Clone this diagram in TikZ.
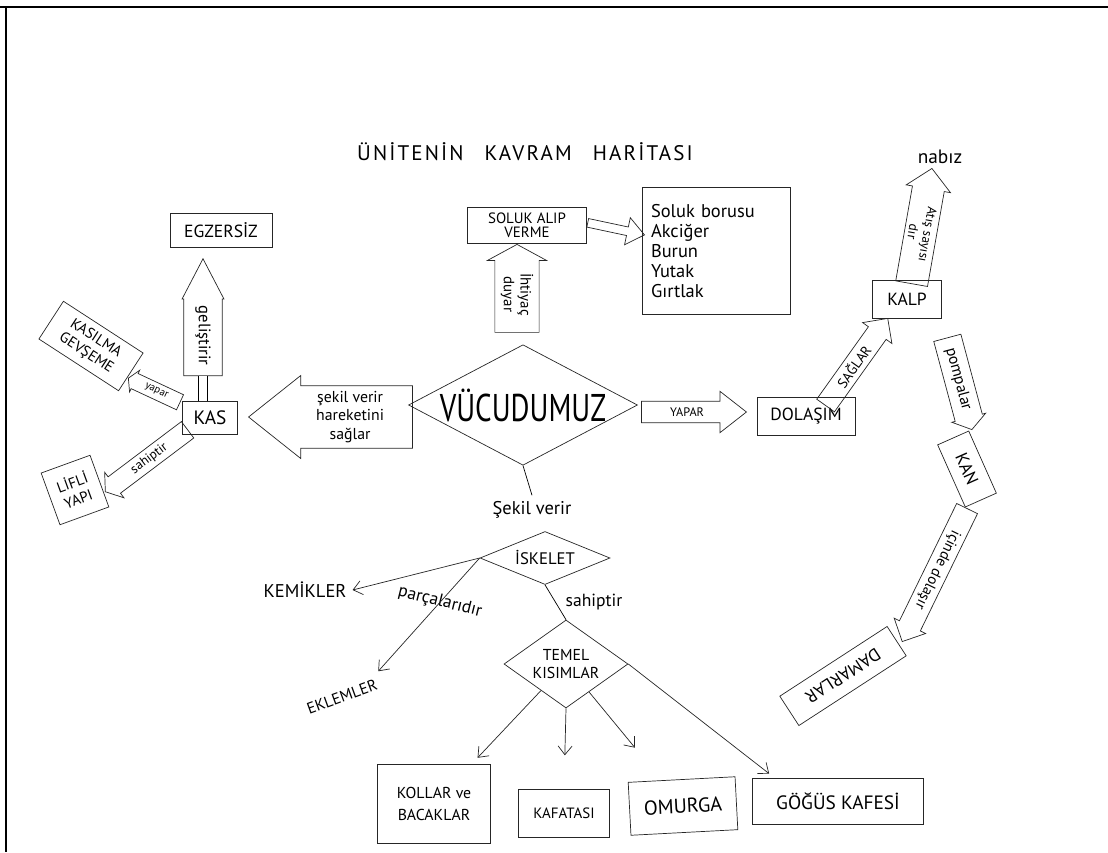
\documentclass[tikz,border=0pt]{standalone}
\usepackage{fontspec}
\usepackage{graphicx}
\setmainfont{PT Sans}
\usetikzlibrary{arrows.meta,shapes.geometric,shapes.arrows}

\begin{document}
\begin{tikzpicture}[
    x=0.02cm, y=-0.02cm,
    % plain styles
    kutu/.style={rectangle, draw=black!85, thin, align=center, inner sep=2pt, font=\fontsize{10}{11}\selectfont},
    karar/.style={diamond, draw=black!85, thin, inner sep=0pt, align=center},
    okkutu/.style={single arrow, draw=black!85, thin, align=center, inner sep=1.5pt, anchor=tip, font=\fontsize{8}{9}\selectfont},
    yazi/.style={font=\fontsize{10}{11}\selectfont},
    ok/.style={draw=black!85, thin, -{Straight Barb[length=5pt,width=8pt]}}
]
\useasboundingbox (0,0) rectangle (1108,852);

% page frame
\draw[line width=1.6pt] (0,7) -- (1108,7);
\draw[line width=1.6pt] (6,7) -- (6,852);

% Title
\node[yazi, font=\fontsize{12}{14}\selectfont] (baslik) at (525,152) {\addfontfeatures{LetterSpace=10}ÜNİTENİN\quad KAVRAM\quad HARİTASI};

% centre and skeleton
\node[karar, aspect=1.9, minimum width=43.6mm, minimum height=22.8mm] (vucut) at (523,405) {\scalebox{0.75}[1]{\fontsize{22}{24}\selectfont VÜCUDUMUZ}};
\node[yazi, font=\fontsize{10.5}{12}\selectfont] (sekilverir) at (532,510) {Şekil verir};
\node[karar, aspect=2.45, minimum width=26mm, minimum height=10.6mm, font=\fontsize{9.5}{11}\selectfont] (iskelet) at (545,558) {İSKELET};
\node[karar, aspect=1.41, minimum width=24.8mm, minimum height=17.6mm, font=\fontsize{9}{10}\selectfont] (temel) at (566,664) {TEMEL\\KISIMLAR};
\node[yazi, font=\fontsize{10.5}{12}\selectfont] (kemik) at (305,590) {KEMİKLER};
\node[yazi, rotate=20, font=\fontsize{9}{10}\selectfont] (eklem) at (342,697) {EKLEMLER};
\node[yazi, rotate=-14] (parca) at (440,602) {parçalarıdır};
\node[yazi] (sahip) at (594,602) {sahiptir};

\node[kutu, minimum width=22.6mm, minimum height=15.8mm, font=\fontsize{9}{13}\selectfont] (kollar) at (434,804) {KOLLAR ve\\BACAKLAR};
\node[kutu, minimum width=18.2mm, minimum height=9.6mm, font=\fontsize{8.5}{10}\selectfont] (kafatasi) at (564,813) {KAFATASI};
\node[kutu, rotate=3, minimum width=21.4mm, minimum height=10.6mm, font=\fontsize{11.5}{12}\selectfont] (omurga) at (683,806) {OMURGA};
\node[kutu, minimum width=34.2mm, minimum height=9.2mm, font=\fontsize{11}{12}\selectfont] (gogus) at (838,801) {GÖĞÜS KAFESİ};

\draw (vucut.south) -- (sekilverir.north);
\draw[ok] (iskelet.west) -- (kemik.east);
\draw[ok] (iskelet.west) -- (eklem.north east);
\draw (iskelet.south) -- (temel.north);
\draw[ok, shorten >=5pt] (temel) -- (kollar);
\draw[ok, shorten >=19pt] (temel.south) -- (kafatasi.north);
\draw[ok, shorten >=24pt] (temel) -- (omurga);
\draw[ok] (temel.east) -- ([xshift=3.4mm, yshift=0.8mm]gogus.north west);

% muscle side
\node[kutu, minimum width=20.4mm, minimum height=6.8mm] (egzersiz) at (221,230) {EGZERSİZ};
\node[kutu, minimum width=11mm, minimum height=6.6mm, font=\fontsize{11}{12}\selectfont] (kas) at (210,418) {KAS};
\node[kutu, rotate=-33, minimum width=19mm, minimum height=9mm, font=\fontsize{8.5}{10}\selectfont] (kasilma) at (91,346) {KASILMA\\GEVŞEME};
\node[kutu, rotate=20, minimum width=10.4mm, minimum height=11mm, font=\fontsize{8.5}{10}\selectfont] (lifli) at (75,490) {LİFLİ\\YAPI};

\node[okkutu, shape border rotate=180, minimum height=32.8mm, minimum width=16.6mm, single arrow head extend=1.9mm, single arrow tip angle=77, font=\fontsize{9}{10.5}\selectfont] (sekilok) at (248,417) {şekil verir\\hareketini\\sağlar};
\node[okkutu, rotate=-90, shape border rotate=180, minimum height=23.4mm, minimum width=8.4mm, single arrow head extend=0.2mm, single arrow tip angle=55, font=\fontsize{9.5}{11}\selectfont] (gelis) at (203,258) {geliştirir};
\draw[double, double distance=1.6mm] (gelis.tail) -- (gelis.tail |- kas.north);
\node[okkutu, rotate=-25, shape border rotate=180, minimum height=11.4mm, minimum width=4.8mm, single arrow head extend=0.6mm, single arrow tip angle=120, font=\fontsize{6}{7}\selectfont] (yaparkas) at (128,378) {yapar};
\node[okkutu, rotate=37, shape border rotate=180, minimum height=20.6mm, minimum width=6.4mm, single arrow head extend=1mm, single arrow tip angle=110, font=\fontsize{7.5}{8.5}\selectfont] (sahipkas) at (105,492) {sahiptir};

% breathing
\node[kutu, minimum width=23.8mm, minimum height=7.2mm, font=\fontsize{8.5}{8}\selectfont] (soluk) at (527,225) {SOLUK ALIP\\VERME};
\node[kutu, minimum width=29.6mm, minimum height=25.4mm, text width=26mm, align=left, font=\fontsize{10.5}{11.3}\selectfont] (liste) at (716,251) {Soluk borusu\\Akciğer\\Burun\\Yutak\\Gırtlak};
\node[okkutu, rotate=-90, shape border rotate=180, minimum height=17.6mm, minimum width=11.8mm, inner ysep=2.5pt, single arrow head extend=1.4mm, single arrow tip angle=123, font=\fontsize{8.5}{9.5}\selectfont] (ihtiyac) at (517,244) {İhtiyaç\\duyar};
\node[okkutu, rotate=-12, inner sep=0pt, inner ysep=0.8mm, minimum height=11.6mm, single arrow head extend=1.9mm, single arrow tip angle=77] (nefes) at (645,235) {};

% circulation
\node[okkutu, inner ysep=1.2mm, minimum height=21mm, single arrow head extend=2mm, single arrow tip angle=76, font=\fontsize{7}{8}\selectfont] (yapar) at (747,412) {YAPAR};
\node[kutu, minimum width=19.6mm, minimum height=7.6mm] (dolasim) at (806,416) {DOLAŞIM};
\node[kutu, minimum width=13.8mm, minimum height=7.6mm] (kalp) at (907,299) {KALP};
\node[yazi, font=\fontsize{11}{12}\selectfont] (nabiz) at (940,157) {nabız};
\node[kutu, rotate=-66, minimum width=13.6mm, minimum height=6.8mm] (kan) at (967,469) {KAN};
\node[kutu, rotate=213, minimum width=25.6mm, minimum height=7mm] (damar) at (843,676) {DAMARLAR};

\node[okkutu, rotate=54.5, minimum height=21.4mm, minimum width=7.2mm, single arrow head extend=1.2mm, single arrow tip angle=90] (sagla) at (888,318) {SAĞLAR};
\node[okkutu, rotate=-100, shape border rotate=180, minimum height=23.4mm, minimum width=9mm, single arrow head extend=1.2mm, single arrow tip angle=95, font=\fontsize{7.5}{8.5}\selectfont] (atis) at (932,168) {Atış sayısı\\dır};
\node[okkutu, rotate=-75, minimum height=19mm, minimum width=7mm, single arrow head extend=0.5mm, single arrow tip angle=110, font=\fontsize{9}{10}\selectfont] (pompa) at (972,430) {pompalar};
\node[okkutu, rotate=-116, minimum height=29.6mm, minimum width=7mm, single arrow head extend=1mm, single arrow tip angle=90, font=\fontsize{8.5}{9.5}\selectfont] (icinde) at (902,642) {içinde dolaşır};

\end{tikzpicture}
\end{document}
